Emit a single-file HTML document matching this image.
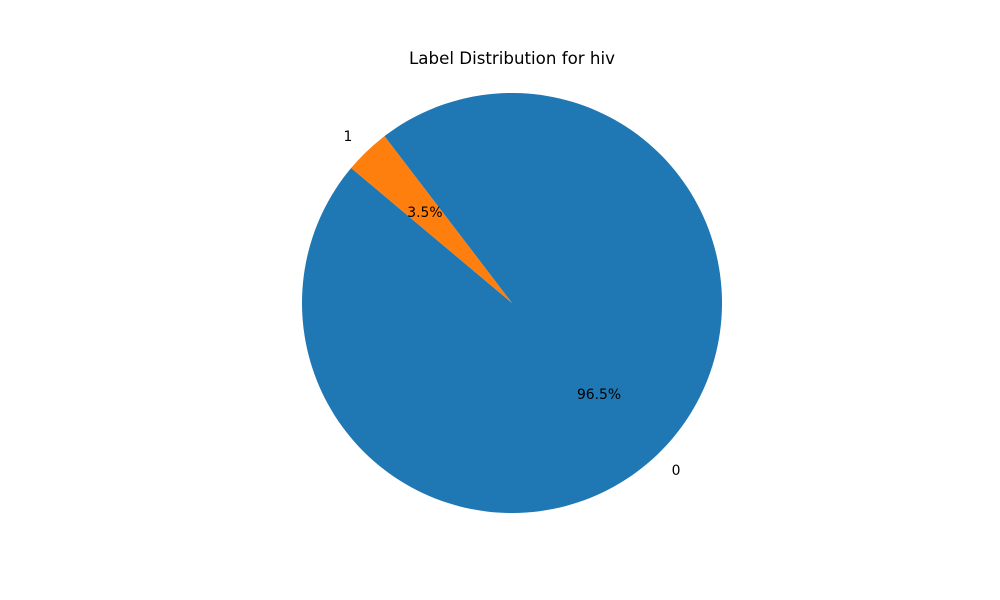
<!DOCTYPE html>
<html><head><meta charset="utf-8"><style>
html,body{margin:0;padding:0;background:#fff;}
svg{display:block;font-family:"DejaVu Sans","Liberation Sans",sans-serif;}
</style></head><body>
<svg id="chart" width="1000" height="600" viewBox="0 0 1000 600">
<rect width="1000" height="600" fill="#fff"/>
<text x="512" y="64" text-anchor="middle" font-size="16.67" fill="#000">Label Distribution for hiv</text>
<g id="slices"></g>
</svg>
<script>
const categories = ["0", "1"];
const values = [96.5, 3.5];
const colors = ["#1f77b4", "#ff7f0e"];
const startAngle = 140;
const cx = 512, cy = 303, R = 210;
const svgNS = "http://www.w3.org/2000/svg";
const g = document.getElementById("slices");
const total = values.reduce((a, b) => a + b, 0);
let a0 = startAngle;
function pt(deg, r) { const t = deg * Math.PI / 180; return [cx + r * Math.cos(t), cy - r * Math.sin(t)]; }
values.forEach((v, i) => {
  const sweep = v / total * 360;
  const a1 = a0 + sweep;
  const p0 = pt(a0, R), p1 = pt(a1, R);
  const large = sweep > 180 ? 1 : 0;
  const path = document.createElementNS(svgNS, "path");
  path.setAttribute("d", `M${cx},${cy} L${p0[0]},${p0[1]} A${R},${R} 0 ${large} 0 ${p1[0]},${p1[1]} Z`);
  path.setAttribute("fill", colors[i]);
  
  
  g.appendChild(path);
  const mid = a0 + sweep / 2;
  const lp = pt(mid, R * 1.1);
  const cosm = Math.cos(mid * Math.PI / 180);
  const lab = document.createElementNS(svgNS, "text");
  lab.setAttribute("x", lp[0]); lab.setAttribute("y", lp[1] + 5);
  lab.setAttribute("text-anchor", cosm < 0 ? "end" : "start");
  lab.setAttribute("font-size", "13.9");
  lab.textContent = categories[i];
  
  
  g.appendChild(lab);
  const pp = pt(mid, R * 0.6);
  const pct = document.createElementNS(svgNS, "text");
  pct.setAttribute("x", pp[0]); pct.setAttribute("y", pp[1] + 5);
  pct.setAttribute("text-anchor", "middle");
  pct.setAttribute("font-size", "13.9");
  pct.textContent = (v / total * 100).toFixed(1) + "%";
  
  
  g.appendChild(pct);
  a0 = a1;
});
</script>
</body></html>
